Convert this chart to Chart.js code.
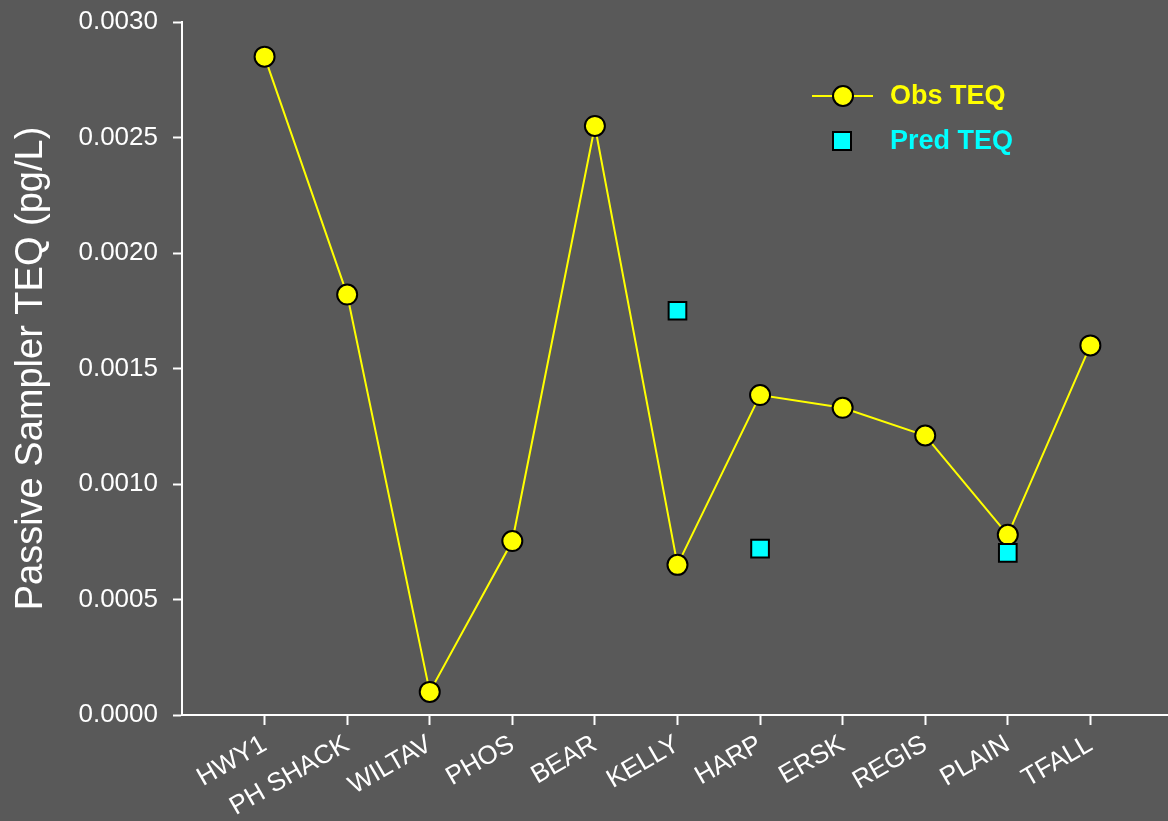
<!DOCTYPE html>
<html>
<head>
<meta charset="utf-8">
<script src="https://cdn.jsdelivr.net/npm/chart.js@4"></script>
<style>
  html, body { margin: 0; padding: 0; background: #595959; }
  #teqChart { display: block; }
</style>
</head>
<body>
<canvas id="teqChart" width="1168" height="821"></canvas>
<script>
const sites = ["HWY1", "PH SHACK", "WILTAV", "PHOS", "BEAR", "KELLY", "HARP", "ERSK", "REGIS", "PLAIN", "TFALL"];
const obsTEQ = [0.00285, 0.00182, 0.00010, 0.000753, 0.00255, 0.00065, 0.001385, 0.00133, 0.00121, 0.00078, 0.00160];
const predTEQ = [null, null, null, null, null, 0.00175, 0.00072, null, null, 0.000702, null];
const yTicks = [0, 0.0005, 0.001, 0.0015, 0.002, 0.0025, 0.003];

const FONT = "'Liberation Sans', Arial, sans-serif";
const YELLOW = "#ffff00";
const CYAN = "#00ffff";

// site index -> x position 1..n on a linear axis
const obsPoints = obsTEQ.map((v, i) => ({ x: i + 1, y: v }));
const predPoints = predTEQ.map((v, i) => ({ x: i + 1, y: v })).filter(p => p.y !== null);

// legend drawn by hand in the upper right
const legendPlugin = {
    id: "teqLegend",
    afterDraw(chart) {
        const c = chart.ctx;
        c.save();
        c.lineWidth = 2;
        c.strokeStyle = YELLOW;
        c.beginPath();
        c.moveTo(812, 96);
        c.lineTo(873, 96);
        c.stroke();
        c.beginPath();
        c.arc(843, 96, 10, 0, Math.PI * 2);
        c.fillStyle = YELLOW;
        c.fill();
        c.strokeStyle = "#000";
        c.stroke();

        c.fillStyle = CYAN;
        c.fillRect(833, 132, 18, 18);
        c.strokeRect(833, 132, 18, 18);

        c.font = "bold 27px " + FONT;
        c.textBaseline = "middle";
        c.textAlign = "left";
        c.fillStyle = YELLOW;
        c.fillText("Obs TEQ", 890, 97);
        c.fillStyle = CYAN;
        c.fillText("Pred TEQ", 890, 142);
        c.restore();
    }
};

new Chart(document.getElementById("teqChart"), {
    type: "line",
    data: {
        datasets: [{
            label: "Obs TEQ",
            data: obsPoints,
            borderColor: YELLOW,
            borderWidth: 2,
            pointRadius: 10,
            pointHoverRadius: 10,
            pointBackgroundColor: YELLOW,
            pointBorderColor: "#000",
            pointBorderWidth: 2,
            order: 2
        }, {
            label: "Pred TEQ",
            data: predPoints,
            showLine: false,
            pointStyle: "rect",
            pointRadius: 12.5,
            pointHoverRadius: 12.5,
            pointBackgroundColor: CYAN,
            pointBorderColor: "#000",
            pointBorderWidth: 2,
            order: 1
        }]
    },
    options: {
        responsive: false,
        animation: false,
        layout: {
            autoPadding: false,
            padding: { top: 22, right: 0, left: 0, bottom: 0 }
        },
        plugins: {
            legend: { display: false },
            tooltip: { enabled: false }
        },
        scales: {
            x: {
                type: "linear",
                min: 0,
                max: 11.94,
                afterBuildTicks: (scale) => {
                    scale.ticks = sites.map((s, i) => ({ value: i + 1 }));
                },
                afterFit: (scale) => {
                    scale.height = 106;
                    scale.paddingLeft = 0;
                    scale.paddingRight = 0;
                },
                grid: {
                    drawOnChartArea: false,
                    drawTicks: true,
                    tickLength: 10,
                    tickColor: "#fff",
                    tickWidth: 2
                },
                border: { display: true, color: "#fff", width: 2 },
                ticks: {
                    autoSkip: false,
                    minRotation: 30,
                    maxRotation: 30,
                    padding: 4,
                    color: "#fff",
                    font: { family: FONT, size: 26 },
                    callback: (v) => sites[v - 1]
                }
            },
            y: {
                min: 0,
                max: 0.003,
                afterBuildTicks: (scale) => {
                    scale.ticks = yTicks.map(v => ({ value: v }));
                },
                afterFit: (scale) => {
                    scale.width = 182;
                    scale.paddingTop = 0;
                    scale.paddingBottom = 0;
                },
                grid: {
                    drawOnChartArea: false,
                    drawTicks: true,
                    tickLength: 9,
                    tickColor: "#fff",
                    tickWidth: 2
                },
                border: { display: true, color: "#fff", width: 2 },
                ticks: {
                    padding: 15,
                    color: "#fff",
                    font: { family: FONT, size: 26 },
                    callback: (v) => v.toFixed(4)
                },
                title: {
                    display: true,
                    text: "Passive Sampler TEQ (pg/L)",
                    color: "#fff",
                    font: { family: FONT, size: 38 },
                    padding: { top: 9, bottom: 0 }
                }
            }
        }
    },
    plugins: [legendPlugin]
});
</script>
</body>
</html>
